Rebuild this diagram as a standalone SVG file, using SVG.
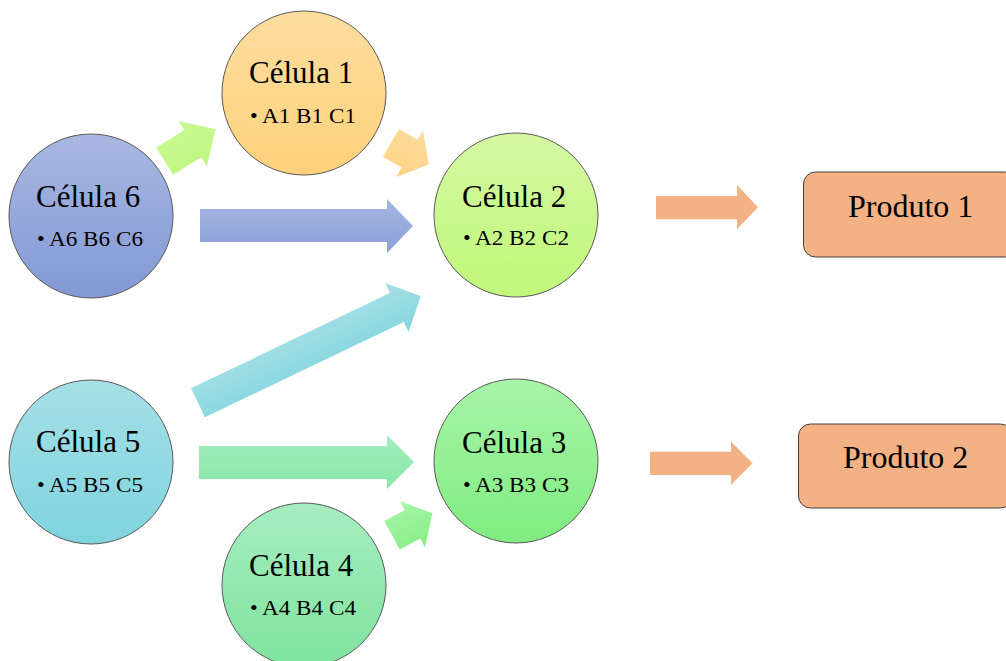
<svg xmlns="http://www.w3.org/2000/svg" width="1006" height="661" viewBox="0 0 1006 661">
<defs>
<linearGradient id="g1" x1="0" y1="0" x2="0" y2="1"><stop offset="0" stop-color="#fddd9f"/><stop offset="1" stop-color="#fed27c"/></linearGradient>
<linearGradient id="g6" x1="0" y1="0" x2="0" y2="1"><stop offset="0" stop-color="#a9b8e1"/><stop offset="1" stop-color="#8299d5"/></linearGradient>
<linearGradient id="g2" x1="0" y1="0" x2="0" y2="1"><stop offset="0" stop-color="#d4f8a3"/><stop offset="1" stop-color="#c0f779"/></linearGradient>
<linearGradient id="g5" x1="0" y1="0" x2="0" y2="1"><stop offset="0" stop-color="#a6dfe6"/><stop offset="1" stop-color="#7fd4de"/></linearGradient>
<linearGradient id="g3" x1="0" y1="0" x2="0" y2="1"><stop offset="0" stop-color="#a8f4a8"/><stop offset="1" stop-color="#80ec80"/></linearGradient>
<linearGradient id="g4" x1="0" y1="0" x2="0" y2="1"><stop offset="0" stop-color="#a6edc0"/><stop offset="1" stop-color="#80e39f"/></linearGradient>
<linearGradient id="aGreen" x1="0" y1="0" x2="0" y2="1"><stop offset="0" stop-color="#cafa96"/><stop offset="1" stop-color="#bff57f"/></linearGradient>
<linearGradient id="aOrange" x1="0" y1="0" x2="0" y2="1"><stop offset="0" stop-color="#fedc9d"/><stop offset="1" stop-color="#fed383"/></linearGradient>
<linearGradient id="aBlue" x1="0" y1="0" x2="0" y2="1"><stop offset="0" stop-color="#a4b5e0"/><stop offset="1" stop-color="#8ca1d8"/></linearGradient>
<linearGradient id="aCyan" x1="0" y1="0" x2="0" y2="1"><stop offset="0" stop-color="#a5e0e5"/><stop offset="1" stop-color="#86d6df"/></linearGradient>
<linearGradient id="aMint" x1="0" y1="0" x2="0" y2="1"><stop offset="0" stop-color="#a2edbd"/><stop offset="1" stop-color="#89e6a7"/></linearGradient>
<linearGradient id="aLime" x1="0" y1="0" x2="0" y2="1"><stop offset="0" stop-color="#a8f5a8"/><stop offset="1" stop-color="#86ee86"/></linearGradient>
</defs>
<style>
.cell{stroke:#5a5a5a;stroke-width:1}
.title{font-family:"Liberation Serif","Times New Roman",serif;font-size:31px;fill:#000}
.bul{font-family:"Liberation Serif","Times New Roman",serif;font-size:22px;fill:#000}
.prod{fill:#f4b183;stroke:#404040;stroke-width:1}
.ptext{font-family:"Liberation Serif","Times New Roman",serif;font-size:32px;fill:#000}
.pa{fill:#f4b183}
</style>
<g id="connectors">
<polygon fill="url(#aGreen)" transform="translate(164.7,161.2) rotate(-32.1)" points="0,-16 33,-16 33,-26.8 60,0 33,26.8 33,16 0,16"/>
<polygon fill="url(#aOrange)" transform="translate(391,142.9) rotate(29.8)" points="0,-16 21.5,-16 21.5,-27 43.5,0 21.5,27 21.5,16 0,16"/>
<polygon fill="url(#aBlue)" points="200,209 387,209 387,199 413,226 387,253 387,242 200,242"/>
<polygon fill="url(#aCyan)" transform="translate(198,402.8) rotate(-25.6)" points="0,-16.1 220.5,-16.1 220.5,-27.2 247,0 220.5,27.2 220.5,16.1 0,16.1"/>
<polygon fill="url(#aMint)" points="199,446 387,446 387,435 414,462 387,489 387,479 199,479"/>
<polygon fill="url(#aLime)" transform="translate(392,535.3) rotate(-28.5)" points="0,-16.2 23.3,-16.2 23.3,-26.2 46,0 23.3,26.2 23.3,16.2 0,16.2"/>
<polygon class="pa" points="656,196 737,196 737,185 758,207.2 737,229.3 737,219.3 656,219.3"/>
<polygon class="pa" points="650,451.7 731,451.7 731,441.7 752.6,463.3 731,485 731,475 650,475"/>
</g>
<g id="celula1">
<circle class="cell" cx="304" cy="93" r="82" fill="url(#g1)"/>
<text class="title" x="249" y="83">Célula 1</text>
<text class="bul" x="250" y="123">•<tspan x="262" textLength="94" lengthAdjust="spacingAndGlyphs">A1 B1 C1</tspan></text>
</g>
<g id="celula6">
<circle class="cell" cx="91" cy="216" r="82" fill="url(#g6)"/>
<text class="title" x="36" y="207">Célula 6</text>
<text class="bul" x="37" y="246">•<tspan x="49" textLength="94" lengthAdjust="spacingAndGlyphs">A6 B6 C6</tspan></text>
</g>
<g id="celula2">
<circle class="cell" cx="516" cy="215" r="82" fill="url(#g2)"/>
<text class="title" x="462" y="207">Célula 2</text>
<text class="bul" x="463" y="245">•<tspan x="475" textLength="94" lengthAdjust="spacingAndGlyphs">A2 B2 C2</tspan></text>
</g>
<g id="celula5">
<circle class="cell" cx="91" cy="462" r="82" fill="url(#g5)"/>
<text class="title" x="36" y="452">Célula 5</text>
<text class="bul" x="37" y="492">•<tspan x="49" textLength="94" lengthAdjust="spacingAndGlyphs">A5 B5 C5</tspan></text>
</g>
<g id="celula3">
<circle class="cell" cx="516" cy="461" r="82" fill="url(#g3)"/>
<text class="title" x="462" y="453">Célula 3</text>
<text class="bul" x="463" y="492">•<tspan x="475" textLength="94" lengthAdjust="spacingAndGlyphs">A3 B3 C3</tspan></text>
</g>
<g id="celula4">
<circle class="cell" cx="304" cy="585" r="82" fill="url(#g4)"/>
<text class="title" x="249" y="576">Célula 4</text>
<text class="bul" x="250" y="615">•<tspan x="262" textLength="94" lengthAdjust="spacingAndGlyphs">A4 B4 C4</tspan></text>
</g>
<g id="produto1">
<rect class="prod" x="803.5" y="172" width="214" height="85" rx="12"/>
<text class="ptext" x="848" y="217">Produto 1</text>
</g>
<g id="produto2">
<rect class="prod" x="798.5" y="424" width="214" height="84" rx="12"/>
<text class="ptext" x="843" y="468">Produto 2</text>
</g>
</svg>
